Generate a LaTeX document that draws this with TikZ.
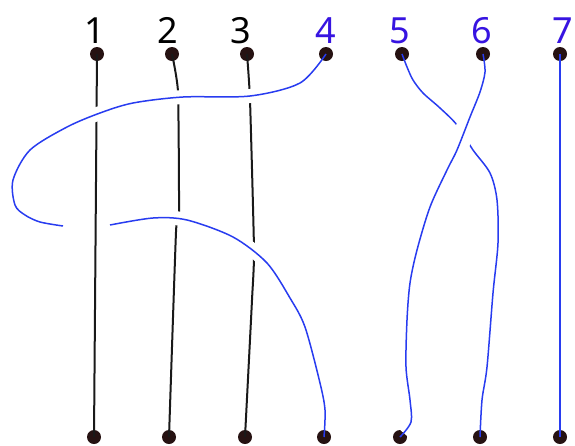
\documentclass[tikz,border=0pt]{standalone}
\usepackage{fontspec}
\setmainfont{Noto Sans}
\usepackage{tikz}
\definecolor{strandblue}{RGB}{40,60,240}
\definecolor{labelblue}{RGB}{55,20,225}
\definecolor{dotbrown}{RGB}{38,18,18}

\begin{document}
\begin{tikzpicture}[x=1pt,y=1pt,
  dot/.style={circle,fill=dotbrown,inner sep=0pt,minimum size=14pt},
  num/.style={font=\fontsize{36}{40}\selectfont,inner sep=0pt,anchor=base},
  bk/.style={black!90,line width=2pt},
  bl/.style={strandblue,line width=1.5pt},
  over/.style={preaction={draw=white,line width=#1,shorten <=10pt,shorten >=10pt}}]
\useasboundingbox (0,0) rectangle (575,-445);
\foreach \n/\tx/\bx/\lx/\c in %
{1/97/94/95/black,2/172/169/168/black,3/247/245/241/black,4/326/324/326/labelblue,
 5/402/400/400/labelblue,6/483/480/482/labelblue,7/560/560/563/labelblue} {
   \node[dot] (t\n) at (\tx,-54) {};
   \node[dot] (b\n) at (\bx,-437) {};
   \node[num,text=\c] (l\n) at (\lx,-43) {\n};
}
% black strands
\draw[bk] (t1.center) -- (b1.center);
\draw[bk] plot[smooth,tension=0.3] coordinates
   {(t2.center) (178,-92) (179,-212) (176,-232) (b2.center)};
\draw[bk] plot[smooth,tension=0.3] coordinates
   {(t3.center) (250,-100) (254,-250) (252,-300) (b3.center)};
% strand from 4, broken under strand 1
\coordinate (u4) at (63,-226);
\coordinate (v4) at (110,-225);
\draw[bl,over=14pt] plot[smooth] coordinates
   {(t4.center) (300,-83) (250,-96) (183,-97) (133,-103) (100,-113) (67,-127)
    (30,-150) (13,-180) (15,-205) (25,-215) (40,-222) (u4)};
\draw[bl,over=14pt] plot[smooth] coordinates
   {(v4) (153,-218) (187,-220) (233,-237) (267,-263) (290,-298) (305,-327)
    (320,-383) (325,-410) (b4.center)};
% strands from 5 and 6
\draw[bl] plot[smooth] coordinates
   {(t5.center) (407,-67) (413,-80) (423,-93) (440,-108) (457,-125) (473,-150)
    (490,-173) (497,-200) (498,-243) (493,-293) (487,-367) (482,-400) (b6.center)};
\draw[bl,over=20pt] plot[smooth] coordinates
   {(t6.center) (485,-72) (480,-92) (470,-117) (457,-150) (447,-170) (430,-207)
    (417,-250) (410,-283) (407,-320) (406,-367) (410,-400) (411,-422) (b5.center)};
\draw[bl,line width=2pt] (t7.center) -- (b7.center);
\end{tikzpicture}
\end{document}
